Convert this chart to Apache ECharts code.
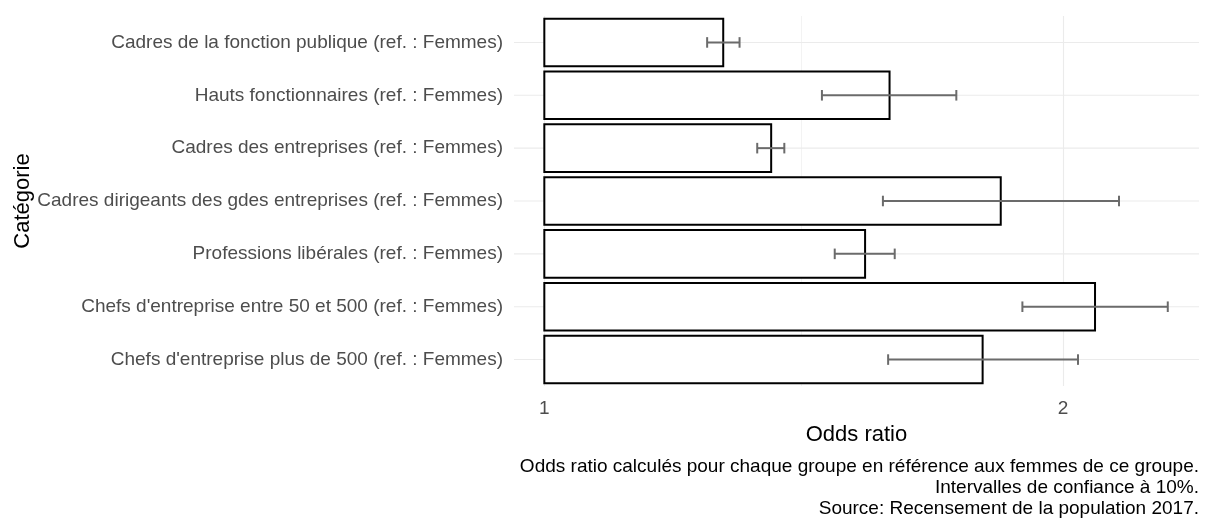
<!DOCTYPE html>
<html>
<head>
<meta charset="utf-8">
<script src="https://cdn.jsdelivr.net/npm/echarts@6/dist/echarts.min.js"></script>
<style>
  html, body { margin: 0; padding: 0; background: #fff; }
  #chart { width: 1208px; height: 518px; }
</style>
</head>
<body>
<div id="chart"></div>
<script>
// categories, top to bottom
const categories = [
  "Cadres de la fonction publique (ref. : Femmes)",
  "Hauts fonctionnaires (ref. : Femmes)",
  "Cadres des entreprises (ref. : Femmes)",
  "Cadres dirigeants des gdes entreprises (ref. : Femmes)",
  "Professions libérales (ref. : Femmes)",
  "Chefs d'entreprise entre 50 et 500 (ref. : Femmes)",
  "Chefs d'entreprise plus de 500 (ref. : Femmes)"
];
const oddsRatio = [1.270, 1.586, 1.354, 1.840, 1.535, 2.087, 1.796];
const ciLow = [1.243, 1.449, 1.329, 1.572, 1.474, 1.894, 1.583];
const ciHigh = [1.298, 1.734, 1.378, 2.155, 1.597, 2.300, 2.040];
const xTicks = [1, 2];
const xMinorTicks = [1.414];
const captionLines = [
  "Odds ratio calculés pour chaque groupe en référence aux femmes de ce groupe.",
  "Intervalles de confiance à 10%.",
  "Source: Recensement de la population 2017."
];

const FONT = "'Liberation Sans', Arial, sans-serif";
const myChart = echarts.init(document.getElementById("chart"));

var option = {
  animation: false,
  textStyle: { fontFamily: FONT },
  grid: { left: 514, right: 9, top: 16, bottom: 132, outerBoundsMode: "none" },
  xAxis: {
    type: "log",
    logBase: 2,
    min: 0.9603,
    max: 2.398,
    name: "Odds ratio",
    nameLocation: "middle",
    nameGap: 38,
    nameMoveOverlap: false,
    nameTextStyle: { fontSize: 22, color: "#000", fontFamily: FONT },
    axisLine: { show: false },
    axisTick: { show: false },
    axisLabel: {
      color: "#4d4d4d",
      fontSize: 19,
      margin: 13,
      showMinLabel: false,
      showMaxLabel: false,
      formatter: function (v) {
        const r = Math.round(v * 1000) / 1000;
        return xTicks.indexOf(r) >= 0 ? String(r) : "";
      }
    },
    splitLine: {
      show: true,
      showMinLine: false,
      showMaxLine: false,
      lineStyle: { color: "#ebebeb", width: 1.1 }
    }
  },
  yAxis: {
    type: "category",
    inverse: true,
    data: categories,
    name: "Catégorie",
    nameLocation: "middle",
    nameRotate: 90,
    nameGap: 480,
    nameMoveOverlap: false,
    nameTextStyle: { fontSize: 22, color: "#000", fontFamily: FONT },
    axisLine: { show: false },
    axisTick: { show: false },
    axisLabel: { color: "#4d4d4d", fontSize: 19, margin: 11 },
    splitLine: { show: false }
  },
  graphic: captionLines.map(function (t, i) {
    return {
      type: "text",
      style: {
        text: t,
        x: 1199,
        y: 467 + i * 21,
        textAlign: "right",
        textVerticalAlign: "middle",
        fontSize: 19,
        fontFamily: FONT,
        fill: "#000"
      }
    };
  }),
  series: [
    {
      type: "custom",
      encode: { x: [0, 2, 3], y: 1 },
      data: oddsRatio.map(function (v, i) {
        return [v, i, ciLow[i], ciHigh[i]];
      }),
      renderItem: function (params, api) {
        const idx = api.value(1);
        const base = api.coord([1, idx]);
        const end = api.coord([api.value(0), idx]);
        const lo = api.coord([api.value(2), idx]);
        const hi = api.coord([api.value(3), idx]);
        const band = api.size([0, 1])[1];
        const h = band * 0.9;
        const cap = band * 0.1;
        const cs = params.coordSys;
        const y = base[1];
        const grey = "#6b6b6b";
        return {
          type: "group",
          children: [
            {
              type: "line",
              shape: { x1: cs.x, y1: y, x2: cs.x + cs.width, y2: y },
              style: { stroke: "#ebebeb", lineWidth: 1.1 }
            },
            {
              type: "rect",
              shape: { x: base[0], y: y - h / 2, width: end[0] - base[0], height: h },
              style: { fill: "#fff", stroke: "#000", lineWidth: 2 }
            },
            {
              type: "line",
              shape: { x1: lo[0], y1: y, x2: hi[0], y2: y },
              style: { stroke: grey, lineWidth: 2 }
            },
            {
              type: "line",
              shape: { x1: lo[0], y1: y - cap, x2: lo[0], y2: y + cap },
              style: { stroke: grey, lineWidth: 2 }
            },
            {
              type: "line",
              shape: { x1: hi[0], y1: y - cap, x2: hi[0], y2: y + cap },
              style: { stroke: grey, lineWidth: 2 }
            }
          ]
        };
      },
      markLine: {
        silent: true,
        z: 1,
        symbol: "none",
        label: { show: false },
        lineStyle: { color: "#ebebeb", width: 0.6, type: "solid" },
        data: xMinorTicks.map(function (v) {
          return { xAxis: v };
        })
      }
    }
  ]
};

myChart.setOption(option);
window.addEventListener("resize", function () {
  myChart.resize();
});
</script>
</body>
</html>
